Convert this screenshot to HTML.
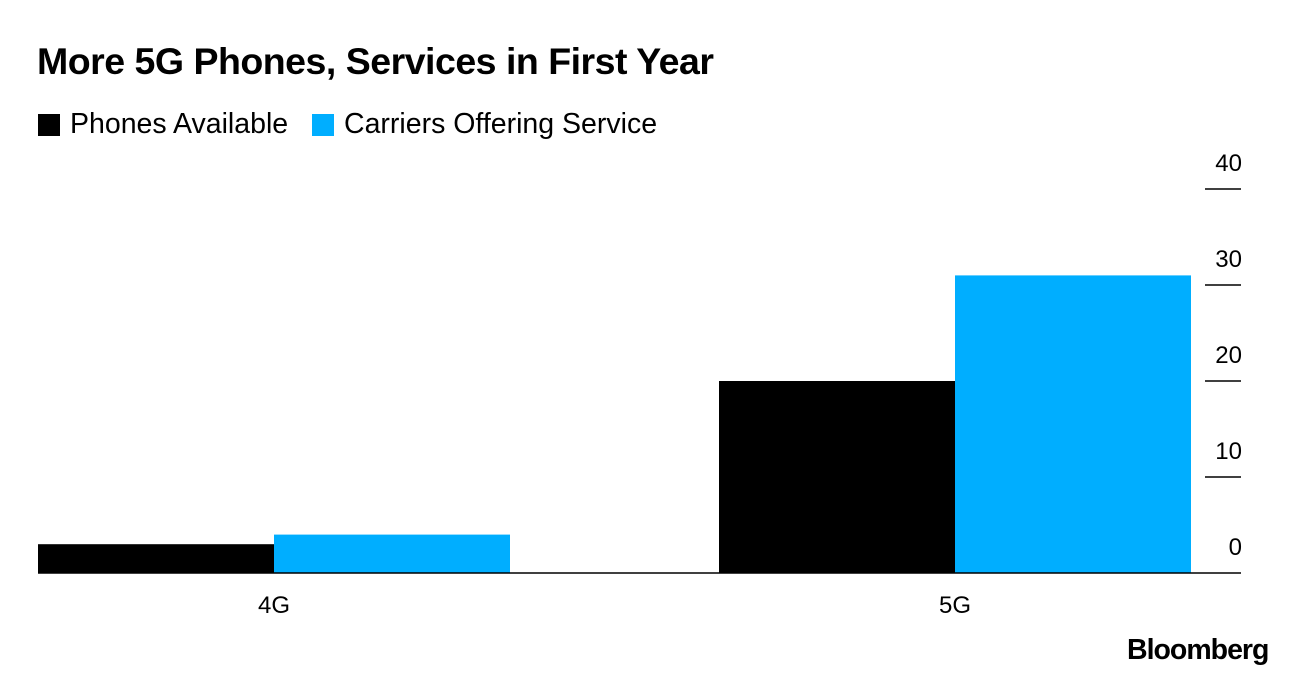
<!DOCTYPE html>
<html><head><meta charset="utf-8"><style>
body{margin:0;background:#fff;font-family:"Liberation Sans",Arial,sans-serif;}
#wrap{position:relative;width:1296px;height:678px;overflow:hidden;background:#fff;}
.title{position:absolute;left:37px;top:40px;font-size:37.5px;font-weight:bold;letter-spacing:-0.5px;color:#000;}
.legend{position:absolute;top:108px;font-size:28.5px;color:#000;display:flex;align-items:center;}
.sw{width:22px;height:22px;margin-right:10px;display:inline-block;}
.logo{position:absolute;left:1127px;top:634px;font-size:28.5px;font-weight:bold;letter-spacing:-1px;}
</style></head><body>
<div id="wrap">
<div class="title">More 5G Phones, Services in First Year</div>
<div class="legend" style="left:38px"><span class="sw" style="background:#000"></span>Phones Available</div>
<div class="legend" style="left:312px"><span class="sw" style="background:#00aeff"></span>Carriers Offering Service</div>
<svg id="plot" width="1296" height="678" style="position:absolute;left:0;top:0"></svg>
<div class="logo">Bloomberg</div>
</div>
<script>
const categories=["4G","5G"];
const phones=[3,20];
const carriers=[4,31];
const ticks=[0,10,20,30,40];
const svg=document.getElementById('plot');
const NS='http://www.w3.org/2000/svg';
const y0=573,pxPer=9.6;
function y(v){return y0-v*pxPer;}
const groupX=[38,719],barW=236;
function x(i){return groupX[i];}
function mk(tag,attrs){const e=document.createElementNS(NS,tag);for(const k in attrs)e.setAttribute(k,attrs[k]);svg.appendChild(e);return e;}
categories.forEach((c,i)=>{
  const b1=mk('rect',{x:x(i),y:y(phones[i]),width:barW,height:y0-y(phones[i]),fill:'#000'});
  
  
  const b2=mk('rect',{x:x(i)+barW,y:y(carriers[i]),width:barW,height:y0-y(carriers[i]),fill:'#00aeff'});
  
  
  const t=mk('text',{x:x(i)+barW,y:613,'font-size':24,'text-anchor':'middle','font-family':'Liberation Sans, sans-serif'});
  t.textContent=c;
  
  
});
ticks.forEach(v=>{
  if(v>0){const l=mk('line',{x1:1205,x2:1241,y1:y(v),y2:y(v),stroke:'#000','stroke-width':1.5});
  
  }
  const t=mk('text',{x:1242,y:y(v)-18,'font-size':24,'text-anchor':'end','font-family':'Liberation Sans, sans-serif'});
  t.textContent=v;
  
  
});
const ax=mk('line',{x1:38,x2:1241,y1:y0,y2:y0,stroke:'#000','stroke-width':1.5});


</script>
</body></html>
